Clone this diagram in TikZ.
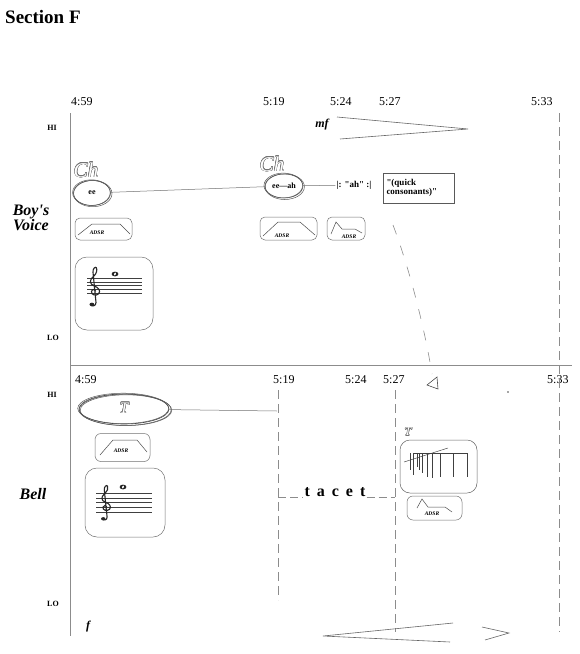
\documentclass[tikz,border=0pt]{standalone}
\usepackage{fontspec}
\setmainfont{Liberation Serif}[Ligatures=TeXOff]
\usetikzlibrary{calc,shapes.geometric}
\newcommand{\hollowtext}[4]{%
  \foreach \ang in {0,30,...,330}{\node[hollowcopy,font=\itshape\fontsize{#3}{#3}\selectfont,shift={(\ang:0.45pt)}] at (#2) {#4};}
  \node[hollowcopy,text=white,font=\itshape\fontsize{#3}{#3}\selectfont] (#1) at (#2) {#4};}
\newcommand{\gclef}[4]{%
  \begin{scope}[shift={(#1,#2)},x=#3pt,y=#4pt]
    \draw[line width=1.1pt,black!85,line cap=round] (0.75,1.25) .. controls (0.75,1.6) and (0.25,1.65) .. (0.2,1.15)
      .. controls (0.15,0.55) and (0.8,0.3) .. (1.15,0.75)
      .. controls (1.5,1.25) and (1.1,1.95) .. (0.55,2.15)
      .. controls (-0.1,2.5) and (-0.1,3.3) .. (0.5,3.9)
      .. controls (0.85,4.3) and (1.0,5.0) .. (0.85,5.4)
      .. controls (0.7,5.7) and (0.35,5.2) .. (0.4,4.6)
      -- (0.8,-0.8) .. controls (0.85,-1.45) and (0.2,-1.6) .. (0.1,-1.15);
    \fill[black!85] (0.25,-1.15) circle (0.32);
  \end{scope}}
\newcommand{\wnote}[2]{%
  \fill[black!85] (#1,#2) ellipse (3.4 and 2.4);
  \fill[white,rotate around={-35:(#1,#2)}] (#1,#2) ellipse (0.9 and 1.7);}
\begin{document}
\begin{tikzpicture}[x=1pt,y=-1pt,
 axis/.style={draw=black!45,line width=0.8pt},
 dashy/.style={draw=black!45,line width=0.6pt,dash pattern=on 9pt off 5pt},
 tlab/.style={font=\fontsize{12}{12}\selectfont,inner sep=0pt,anchor=base west},
 hilo/.style={font=\bfseries\fontsize{8}{8}\selectfont,inner sep=0pt},
 inst/.style={font=\bfseries\itshape\fontsize{16}{15}\selectfont,align=center,inner sep=0pt},
 hollowcopy/.style={text=black!55,inner sep=0pt},
 ring/.style={draw=black!65,line width=0.5pt},
 envbox/.style={draw=black!55,rounded corners=5pt,line width=0.5pt,inner sep=0pt},
 envline/.style={draw=black!70,line width=0.5pt},
 envtext/.style={font=\bfseries\itshape\fontsize{5.5}{6}\selectfont,inner sep=0pt},
 staffbox/.style={draw=black!55,rounded corners=12pt,line width=0.5pt,inner sep=0pt},
 staffline/.style={draw=black!75,line width=0.45pt},
 hair/.style={draw=black!60,line width=0.6pt},
 connector/.style={draw=black!55,line width=0.5pt},
 ]
\useasboundingbox (0,0) rectangle (579,654);
\fill[white] (0,0) rectangle (579,654);

% title
\node[anchor=base west,font=\bfseries\fontsize{19}{20}\selectfont,inner sep=0pt] (title) at (5,23) {Section F};

% time labels top
\node[tlab] (t1) at (71,105) {4:59};
\node[tlab] (t2) at (263,105) {5:19};
\node[tlab] (t3) at (330,105) {5:24};
\node[tlab] (t4) at (379,105) {5:27};
\node[tlab] (t5) at (531,105) {5:33};
% time labels bottom
\node[tlab] (b1) at (75,383) {4:59};
\node[tlab] (b2) at (273,383) {5:19};
\node[tlab] (b3) at (345,383) {5:24};
\node[tlab] (b4) at (383,383) {5:27};
\node[tlab] (b5) at (547,383) {5:33};

% axes
\coordinate (axtop) at (70,113);
\coordinate (axbot) at (70,636);
\draw[axis] (axtop) -- (axbot);
\coordinate (divL) at (70,365);
\coordinate (divR) at (572,365);
\draw[axis] (divL) -- (divR);
\coordinate (rtop) at (559,113);
\coordinate (rbot) at (559,632);
\draw[dashy] (rtop) -- (rbot);
\coordinate (d19top) at (278,390);
\coordinate (d19bot) at (278,600);
\draw[dashy] (d19top) -- (d19bot);
\coordinate (d27top) at (395,390);
\coordinate (d27bot) at (395,632);
\draw[dashy] (d27top) -- (d27bot);

% HI / LO
\node[hilo] (hi1) at (52,128) {HI};
\node[hilo] (lo1) at (53,338) {LO};
\node[hilo] (hi2) at (52,395) {HI};
\node[hilo] (lo2) at (53,604) {LO};

% instruments
\node[inst] (boy) at (31,218) {Boy's\\Voice};
\node[inst] (bell) at (33,494) {Bell};

% mf hairpin
\node[font=\bfseries\itshape\fontsize{12}{12}\selectfont,inner sep=0pt] (mf) at (322,125) {mf};
\coordinate (hpA1) at (337,117);
\coordinate (hpTip) at (468,129);
\coordinate (hpA2) at (340,139);
\draw[hair] (hpA1) -- (hpTip) -- (hpA2);

% Boy's voice: Ch ee
\hollowtext{ch1}{86,170}{21}{Ch}
\node[ellipse,draw=black!70,line width=0.5pt,minimum width=37pt,minimum height=25pt,inner sep=0pt,font=\bfseries\fontsize{8}{8}\selectfont] (ee) at (92,193) {ee};
\draw[ring] ($(ee.center)+(0.8,0.6)$) ellipse (19.2 and 13.1);
\draw[ring] ($(ee.center)+(-0.6,-0.4)$) ellipse (18.8 and 12.8);

\hollowtext{ch2}{272,164}{21}{Ch}
\node[ellipse,draw=black!70,line width=0.5pt,minimum width=38pt,minimum height=24pt,inner sep=0pt,font=\bfseries\fontsize{8}{8}\selectfont] (eeah) at (284,186) {ee—ah};
\draw[ring] ($(eeah.center)+(0.8,0.7)$) ellipse (19.6 and 12.8);
\draw[ring] ($(eeah.center)+(-0.7,-0.5)$) ellipse (19.3 and 12.4);
\draw[connector] (ee) -- (eeah);

\node[font=\bfseries\fontsize{9}{9}\selectfont,inner sep=1pt] (rep) at (354,185) {|: "ah" :|};
\draw[connector] (eeah) -- (rep);
\node[draw=black!65,line width=0.5pt,minimum width=71pt,minimum height=30pt,inner sep=2pt,text width=64pt,align=left,font=\bfseries\fontsize{9}{9.5}\selectfont] (quick) at (418.5,188) {"(quick\\consonants)"};

% ADSR boxes top
\node[envbox,minimum width=57pt,minimum height=22pt] (adsr1) at (103.5,229) {};
\draw[envline] (78,235) -- (92,224) -- (120,224) -- (130,234);
\node[envtext] (adsr1t) at (97,233) {ADSR};

\node[envbox,minimum width=57pt,minimum height=23pt] (adsr2) at (288.5,228.5) {};
\draw[envline] (263,236) -- (278,222) -- (300,222) -- (315,235);
\node[envtext] (adsr2t) at (282,236) {ADSR};

\node[envbox,minimum width=38pt,minimum height=23pt] (adsr3) at (346,228.5) {};
\draw[envline] (331,234) -- (336,222) -- (342,229) -- (355,229) -- (362,233);
\node[envtext] (adsr3t) at (349,237) {ADSR};

% dashed link to triangle
\coordinate (lnkA) at (393,225);
\coordinate (lnkB) at (432,374);
\draw[draw=black!45,line width=0.6pt,dash pattern=on 10pt off 12pt] (lnkA) .. controls (410,270) and (425,330) .. (lnkB);
\draw[black!70,line width=0.6pt] (427,385) -- (437,377) -- (438,389) -- cycle;

% staff box top
\node[staffbox,minimum width=78pt,minimum height=73pt] (staff1) at (114,293.5) {};
\foreach \i in {0,...,4}{\draw[staffline] (87,{278+\i*3.75}) -- (142,{278+\i*3.75});}
\gclef{90}{298}{7.5}{5.6}
\wnote{115}{274}

% Bell
\node[ellipse,draw=black!75,line width=0.6pt,minimum width=90pt,minimum height=30pt,inner sep=0pt] (tell) at (124,409) {};
\draw[ring] ($(tell.center)+(1.2,0.8)$) ellipse (46 and 15.6);
\draw[ring] ($(tell.center)+(-0.8,-0.6)$) ellipse (45.5 and 15.2);
\draw[ring] ($(tell.center)+(2,1.2)$) ellipse (45.8 and 15.4);
\hollowtext{tT}{124,408}{16}{T}
\coordinate (tend) at (277,411);
\draw[connector] (tell) -- (tend);

\node[envbox,rounded corners=6pt,minimum width=55pt,minimum height=28pt] (adsr4) at (122.5,447.5) {};
\draw[envline] (100,455) -- (113,440) -- (137,440) -- (147,452);
\node[envtext] (adsr4t) at (121,451) {ADSR};

\node[staffbox,minimum width=80pt,minimum height=69pt] (staff2) at (125,502.5) {};
\foreach \i in {0,...,4}{\draw[staffline] (96,{493+\i*4.75}) -- (152,{493+\i*4.75});}
\gclef{101.5}{513}{7}{5}
\wnote{123}{487}

% tacet
\node[font=\bfseries\fontsize{16}{16}\selectfont,inner sep=1pt] (tacet) at (335,492) {t\kern7pt a\kern7pt c\kern7pt e\kern7pt t};
\coordinate (tcL) at (278,497);
\coordinate (tcR) at (395,497);
\draw[dashy,dash pattern=on 8pt off 4pt] (tcL) -- (tacet.west |- tcL);
\draw[dashy,dash pattern=on 8pt off 4pt] (tacet.east |- tcR) -- (tcR);

% bell resonance box
\hollowtext{tT2}{408,432}{12}{T}
\node[draw=black!60,rounded corners=10pt,line width=0.5pt,minimum width=77pt,minimum height=53pt,inner sep=0pt] (bellbox) at (438.5,466.5) {};
\draw[staffline] (413,453) -- (467,453);
\foreach \xx/\yy in {410/470,413/475,417/467,419/470,422/473,427/477,432/478,440/477,453/477,467/477}{\draw[staffline] (\xx,453) -- (\xx,\yy);}
\draw[staffline] (404,462) -- (448,448);
\node[envbox,rounded corners=6pt,minimum width=55pt,minimum height=24pt] (adsr5) at (434.5,508) {};
\draw[envline] (417,508) -- (422,499) -- (428,507) -- (445,507) -- (452,512);
\node[envtext] (adsr5t) at (432,514) {ADSR};

\fill[black!70] (508,392) circle (0.9);

% f and bottom hairpins
\node[font=\bfseries\itshape\fontsize{12}{12}\selectfont,inner sep=0pt] (fdyn) at (88,627) {f};
\coordinate (crTip) at (323,636);
\coordinate (crA) at (453,623);
\coordinate (crB) at (450,642);
\draw[hair] (crA) -- (crTip) -- (crB);
\coordinate (dcA) at (482,627);
\coordinate (dcTip) at (509,633);
\coordinate (dcB) at (485,640);
\draw[hair] (dcA) -- (dcTip) -- (dcB);
\end{tikzpicture}
\end{document}
